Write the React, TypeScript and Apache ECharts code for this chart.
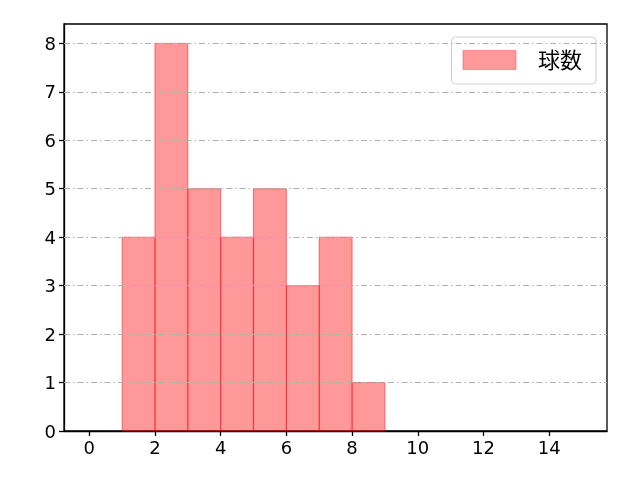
import * as echarts from "echarts";
import { useEffect, useRef } from "react";

const binStarts = [1, 2, 3, 4, 5, 6, 7, 8];
const binWidth = 1;
const counts = [4, 8, 5, 4, 5, 3, 4, 1];
const xTicks = [0, 2, 4, 6, 8, 10, 12, 14];
const yTicks = [0, 1, 2, 3, 4, 5, 6, 7, 8];
const seriesName = "球数";

const FONT = '"DejaVu Sans", "Noto Sans CJK JP", sans-serif';

export default function App() {
  const chartRef = useRef<HTMLDivElement>(null);

  useEffect(() => {
    if (!chartRef.current) return;
    const chart = echarts.init(chartRef.current, null, { renderer: "svg" });

    const data = binStarts.map((s, i) => [s, s + binWidth, counts[i]]);

    const option: echarts.EChartsOption = {
      animation: false,
      textStyle: { fontFamily: FONT },
      grid: {
        left: 64,
        right: 33,
        top: 24,
        bottom: 49,
        show: true,
        borderColor: "#000",
        borderWidth: 1.3,
        backgroundColor: "#fff",
      },
      legend: {
        right: 44,
        top: 37,
        padding: [12, 14, 13, 11],
        borderColor: "#d0d0d0",
        borderWidth: 1,
        borderRadius: 4,
        itemWidth: 53,
        itemHeight: 19,
        textStyle: { fontSize: 22, fontFamily: FONT, color: "#000", padding: [0, 0, 0, 17] },
        data: [
          {
            name: seriesName,
            icon: "rect",
            itemStyle: { color: "rgba(255,0,0,0.4)", borderColor: "rgba(255,0,0,0.3)", borderWidth: 1 },
          },
        ],
      },
      xAxis: {
        type: "value",
        min: -0.77,
        max: 15.76,
        axisLine: { show: true, onZero: false, lineStyle: { color: "#000", width: 1.3 } },
        axisTick: {
          show: true,
          length: 5,
          customValues: xTicks,
          lineStyle: { color: "#000", width: 1.3 },
        },
        axisLabel: {
          customValues: xTicks,
          fontSize: 18,
          color: "#000",
          margin: 7,
          fontFamily: FONT,
        },
        splitLine: { show: false },
      },
      yAxis: {
        type: "value",
        min: 0,
        max: 8.4,
        axisLine: { show: true, onZero: false, lineStyle: { color: "#000", width: 1.3 } },
        axisTick: {
          show: true,
          length: 5,
          customValues: yTicks,
          lineStyle: { color: "#000", width: 1.3 },
        },
        axisLabel: {
          customValues: yTicks,
          fontSize: 18,
          color: "#000",
          margin: 8,
          fontFamily: FONT,
        },
        splitLine: { show: false },
      },
      series: [
        {
          name: "grid",
          type: "line",
          data: [],
          silent: true,
          markLine: {
            silent: true,
            symbol: "none",
            label: { show: false },
            lineStyle: { color: "#b0b0b0", width: 1, type: [6, 3, 1.5, 3] },
            data: yTicks.filter((v) => v > 0).map((v) => ({ yAxis: v })),
          },
          z: 1,
        },
        {
          name: seriesName,
          type: "custom",
          z: 2,
          renderItem: (params: any, api: any) => {
            const start = api.coord([api.value(0), api.value(2)]);
            const end = api.coord([api.value(1), 0]);
            return {
              type: "rect",
              shape: {
                x: start[0],
                y: start[1],
                width: end[0] - start[0],
                height: end[1] - start[1],
              },
              style: {
                fill: "rgba(255,0,0,0.4)",
                stroke: "rgba(255,0,0,0.5)",
                lineWidth: 1,
              },
            };
          },
          encode: { x: [0, 1], y: 2 },
          data,
        },
      ],
    };

    chart.setOption(option);
    return () => chart.dispose();
  }, []);

  return (
    <div
      ref={chartRef}
      style={{ position: "fixed", left: 0, top: 0, width: 640, height: 480 }}
    />
  );
}
